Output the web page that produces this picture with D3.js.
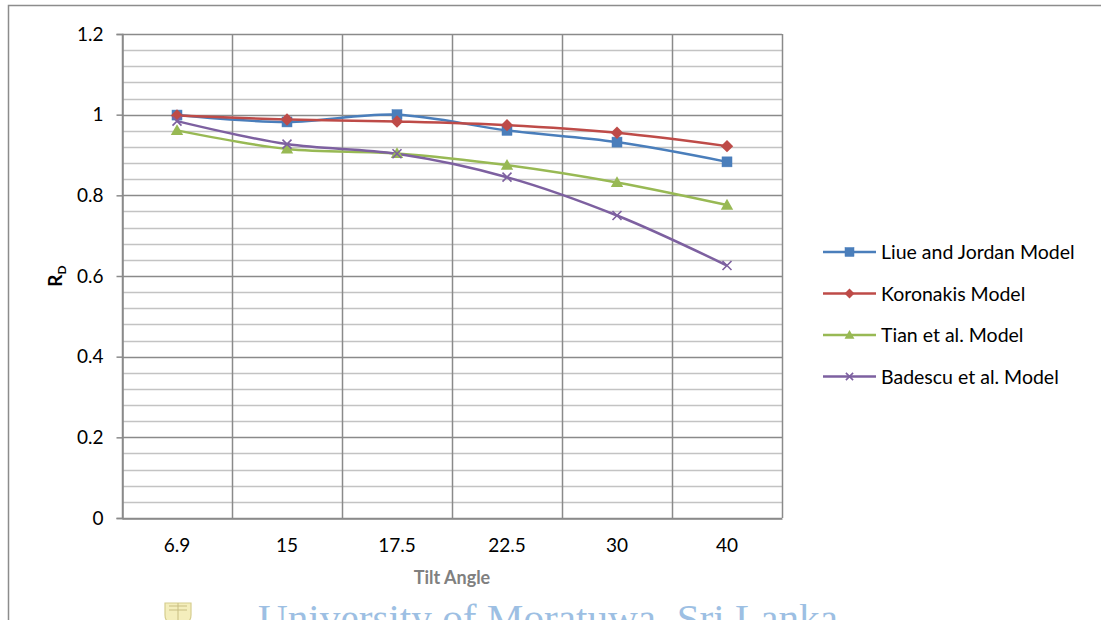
<!DOCTYPE html>
<html>
<head>
<meta charset="utf-8">
<script src="https://cdn.jsdelivr.net/npm/d3@7/dist/d3.min.js"></script>
<style>
  html, body { margin: 0; padding: 0; background: #fff; }
  svg { display: block; }
  text { font-family: Lato, "Open Sans", sans-serif; }
</style>
</head>
<body>
<svg id="chart" width="1101" height="620"></svg>
<script>
// Tilt angles (category axis)
const tiltAngles = ["6.9", "15", "17.5", "22.5", "30", "40"];

// Diffuse transposition factor R_D for each model
const liuJordan = [0.999, 0.982, 1.000, 0.961, 0.932, 0.883];
const koronakis = [0.998, 0.988, 0.983, 0.974, 0.955, 0.922];
const tian      = [0.961, 0.915, 0.904, 0.875, 0.832, 0.776];
const badescu   = [0.984, 0.927, 0.903, 0.845, 0.750, 0.626];

const seriesNames = ["Liue and Jordan Model", "Koronakis Model", "Tian et al. Model", "Badescu et al. Model"];
const seriesColors = ["#4a7ebb", "#be4b48", "#98b954", "#7d60a0"];
const seriesMarkers = ["square", "diamond", "triangle", "cross"];
const seriesValues = [liuJordan, koronakis, tian, badescu];

const yTickValues = [0, 0.2, 0.4, 0.6, 0.8, 1, 1.2];

const svg = d3.select("#chart");

// outer chart frame
svg.append("path")
  .attr("d", "M8.5,620 V5.5 H1101")
  .attr("fill", "none")
  .attr("stroke", "#8c8c8c")
  .attr("stroke-width", 1.5);

const plot = { left: 122, right: 782, top: 34, bottom: 518 };

const x = d3.scaleBand().domain(tiltAngles).range([plot.left, plot.right]);
const y = d3.scaleLinear().domain([0, 1.2]).range([plot.bottom, plot.top]);

// minor horizontal gridlines
const minor = d3.range(0, 1.2001, 0.04).filter(v => Math.abs(v / 0.2 - Math.round(v / 0.2)) > 1e-6);
svg.append("g").selectAll("line").data(minor).join("line")
  .attr("x1", plot.left).attr("x2", plot.right)
  .attr("y1", d => Math.round(y(d)) + 0.5).attr("y2", d => Math.round(y(d)) + 0.5)
  .attr("stroke", "#c3c3c3").attr("stroke-width", 1.5);

// major horizontal gridlines
svg.append("g").selectAll("line").data(yTickValues).join("line")
  .attr("x1", plot.left).attr("x2", plot.right)
  .attr("y1", d => Math.round(y(d)) + 0.5).attr("y2", d => Math.round(y(d)) + 0.5)
  .attr("stroke", "#8a8a8a").attr("stroke-width", 1.5);

// vertical gridlines at category boundaries
const bounds = tiltAngles.map(d => x(d)).concat([plot.right]);
svg.append("g").selectAll("line").data(bounds).join("line")
  .attr("x1", d => Math.round(d) + 0.5).attr("x2", d => Math.round(d) + 0.5)
  .attr("y1", plot.top).attr("y2", plot.bottom)
  .attr("stroke", "#8a8a8a").attr("stroke-width", 1.5);

// y axis
const yAxis = svg.append("g")
  .attr("transform", `translate(${plot.left + 0.5},0)`)
  .call(d3.axisLeft(y).tickValues(yTickValues).tickSize(6).tickPadding(13)
    .tickFormat(d => d3.format("")(+d.toFixed(1))));
yAxis.select(".domain").attr("stroke", "#8a8a8a").attr("stroke-width", 1.5);
yAxis.selectAll(".tick line").attr("stroke", "#8a8a8a").attr("stroke-width", 1.5);
yAxis.selectAll(".tick text").attr("fill", "#000").style("font-size", "19px")
  .style("font-family", "Lato, sans-serif");

// x axis
const xAxis = svg.append("g")
  .attr("transform", `translate(0,${plot.bottom + 0.5})`)
  .call(d3.axisBottom(x).tickSize(0).tickPadding(20));
xAxis.select(".domain").attr("stroke", "#8a8a8a").attr("stroke-width", 1.5);
xAxis.selectAll(".tick text").attr("fill", "#000").style("font-size", "19px")
  .style("font-family", "Lato, sans-serif");

// axis titles
svg.append("text")
  .attr("x", (plot.left + plot.right) / 2).attr("y", 584)
  .attr("text-anchor", "middle")
  .attr("fill", "#808080").style("font-size", "18px").style("font-weight", "bold")
  .text("Tilt Angle");

const yTitle = svg.append("text")
  .attr("transform", "translate(62,276) rotate(-90)")
  .attr("text-anchor", "middle")
  .style("font-size", "19px").style("font-weight", "bold").attr("fill", "#000");
yTitle.append("tspan").text("R");
yTitle.append("tspan").attr("dy", 4).style("font-size", "12px").text("D");

// series lines and markers
const line = d3.line()
  .x((d, i) => x(tiltAngles[i]) + x.bandwidth() / 2)
  .y(d => y(d))
  .curve(d3.curveCatmullRom.alpha(0.5));

function drawMarker(g, type, color, size) {
  const s = size;
  if (type === "square") {
    g.append("rect").attr("x", -s / 2).attr("y", -s / 2).attr("width", s).attr("height", s)
      .attr("fill", color).attr("stroke", color).attr("stroke-width", 0.5);
  } else if (type === "diamond") {
    const r = s * 0.62;
    g.append("path").attr("d", `M0,${-r} L${r},0 L0,${r} L${-r},0 Z`).attr("fill", color);
  } else if (type === "triangle") {
    const r = s * 0.62;
    g.append("path").attr("d", `M0,${-r} L${r},${r * 0.75} L${-r},${r * 0.75} Z`).attr("fill", color);
  } else {
    const r = s * 0.45;
    g.append("path").attr("d", `M${-r},${-r} L${r},${r} M${-r},${r} L${r},${-r}`)
      .attr("stroke", color).attr("stroke-width", 1.6).attr("fill", "none");
  }
}

seriesValues.forEach((vals, k) => {
  svg.append("path")
    .datum(vals)
    .attr("d", line)
    .attr("fill", "none")
    .attr("stroke", seriesColors[k])
    .attr("stroke-width", 2.5)
    .attr("stroke-linejoin", "round");
});
seriesValues.forEach((vals, k) => {
  vals.forEach((v, i) => {
    const g = svg.append("g")
      .attr("transform", `translate(${x(tiltAngles[i]) + x.bandwidth() / 2},${y(v)})`);
    drawMarker(g, seriesMarkers[k], seriesColors[k], 10);
  });
});

// legend
const legend = svg.append("g");
seriesNames.forEach((name, k) => {
  const ly = 252 + k * 41.5;
  const g = legend.append("g").attr("transform", `translate(0,${ly})`);
  g.append("line").attr("x1", 823).attr("x2", 876).attr("y1", 0).attr("y2", 0)
    .attr("stroke", seriesColors[k]).attr("stroke-width", 2.5);
  const m = g.append("g").attr("transform", "translate(849.5,0)");
  drawMarker(m, seriesMarkers[k], seriesColors[k], k === 0 ? 9 : 8);
  g.append("text").attr("x", 881).attr("y", 7)
    .style("font-size", "19.5px").attr("fill", "#000").text(name);
});

// institutional watermark at the foot of the page
const wm = svg.append("g").attr("opacity", 0.75);
wm.append("path")
  .attr("d", "M165,603 h26 v12 q0,9 -13,12 q-13,-3 -13,-12 Z")
  .attr("fill", "#f1e9a6").attr("stroke", "#c9bd6a").attr("stroke-width", 1.2);
wm.append("path")
  .attr("d", "M169,606 h18 M169,610 h18 M178,603 v20")
  .attr("stroke", "#b7a95a").attr("stroke-width", 1);
svg.append("text")
  .attr("x", 258).attr("y", 632)
  .attr("textLength", 580).attr("lengthAdjust", "spacingAndGlyphs")
  .style("font-family", "'Liberation Serif', 'DejaVu Serif', serif")
  .style("font-size", "40px")
  .attr("fill", "#9dbfe3")
  .text("University of Moratuwa, Sri Lanka");
</script>
</body>
</html>
